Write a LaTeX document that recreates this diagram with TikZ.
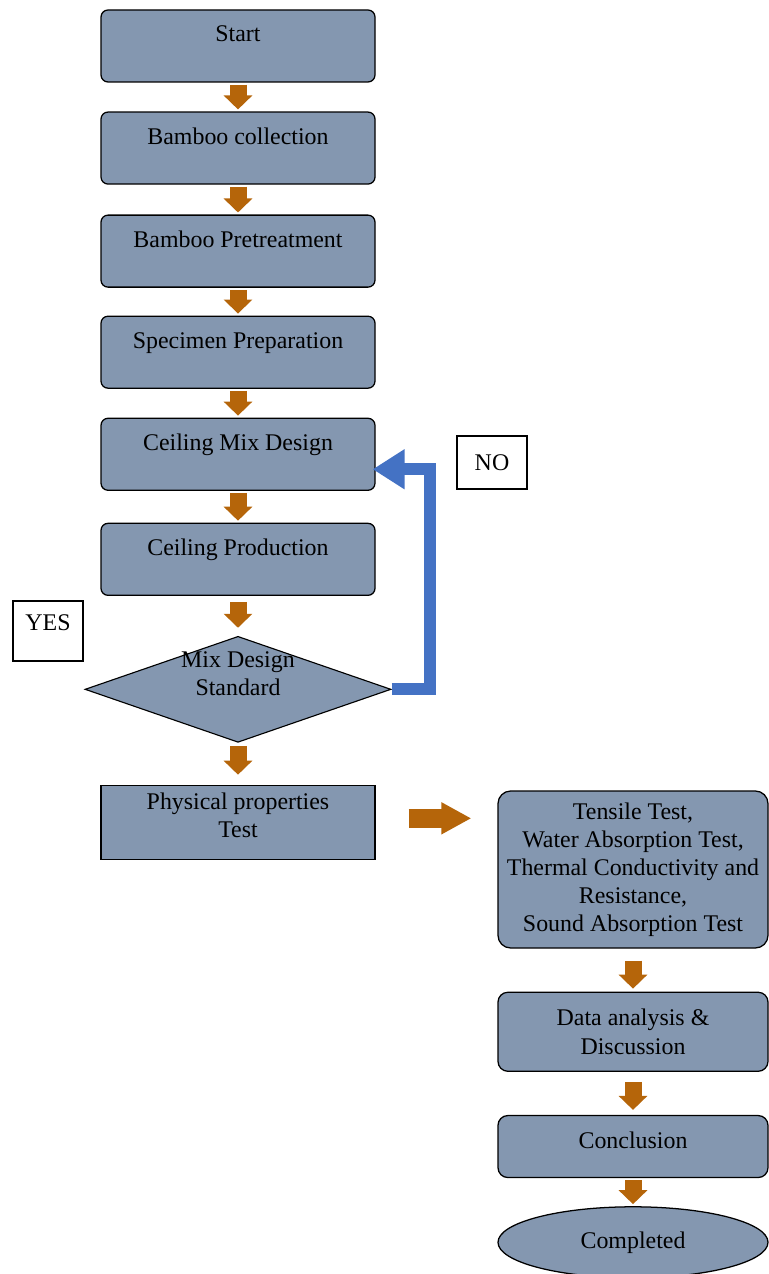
\documentclass[tikz,border=0pt]{standalone}
\usepackage{fontspec}
\setmainfont{Liberation Serif}
\usepackage{tikz}
\usetikzlibrary{shapes.geometric, arrows.meta, positioning, calc}
\definecolor{boxfill}{RGB}{132,151,176}
\definecolor{myorange}{RGB}{181,101,10}
\definecolor{myblue}{RGB}{68,114,196}
\newcommand{\uptext}[2]{\raisebox{#1}[0pt][0pt]{\begin{tabular}{@{}c@{}}#2\end{tabular}}}
\tikzset{
  block/.style={rectangle,draw=black,fill=boxfill,minimum width=6.85cm,minimum height=1.8cm,
    inner sep=0pt,rounded corners=5pt,line width=0.9pt,font=\fontsize{17}{20}\selectfont},
  sqblock/.style={block,rounded corners=0pt,minimum height=1.85cm},
  rblock/.style={rectangle,draw=black,fill=boxfill,minimum width=6.75cm,align=center,
    inner sep=0pt,rounded corners=9pt,line width=0.9pt,font=\fontsize{17}{20}\selectfont},
  decision/.style={diamond,aspect=3,draw=black,fill=boxfill,minimum width=7.65cm,minimum height=2.65cm,
    inner sep=0pt,line width=0.8pt,font=\fontsize{17}{20}\selectfont},
  endblock/.style={ellipse,draw=black,fill=boxfill,minimum width=6.75cm,minimum height=1.775cm,
    inner sep=0pt,line width=0.9pt,font=\fontsize{17}{20}\selectfont},
  lbl/.style={rectangle,draw=black,fill=white,minimum width=1.75cm,line width=0.9pt,
    inner sep=0pt,font=\fontsize{17}{20}\selectfont},
  oarrow/.style={-{Triangle[width=0.7cm,length=0.35cm]},line width=0.425cm,color=myorange,
    shorten <=0.05cm,shorten >=0.05cm},
  barrow/.style={-{Triangle[width=0.95cm,length=0.8cm]},line width=0.3cm,color=myblue}
}
\begin{document}
\begin{tikzpicture}
  \useasboundingbox (0,0) rectangle (19.2,-31.85);

  \node[block] (start) at (5.95,-1.15) {\uptext{0.09cm}{Start}};
  \node[block, below=0.72cm of start]     (collect)  {\uptext{0.09cm}{Bamboo collection}};
  \node[block, below=0.745cm of collect]  (pretreat) {\uptext{0.09cm}{Bamboo Pretreatment}};
  \node[block, below=0.695cm of pretreat] (specimen) {\uptext{0.09cm}{Specimen Preparation}};
  \node[block, below=0.72cm of specimen]  (mixdes)   {\uptext{0.09cm}{Ceiling Mix Design}};
  \node[block, below=0.795cm of mixdes]   (produce)  {\uptext{0.09cm}{Ceiling Production}};
  \node[decision, below=0.995cm of produce] (standard) {\uptext{0.175cm}{Mix Design\\Standard}};
  \node[sqblock, below=1.045cm of standard] (phystest) {\uptext{-0.05cm}{Physical properties\\Test}};

  \node[rblock, minimum height=3.925cm] (tests) at (15.825,-21.7375)
    {Tensile Test,\\Water Absorption Test,\\Thermal Conductivity and\\Resistance,\\Sound Absorption Test};
  \node[rblock, minimum height=1.975cm, rounded corners=7pt, below=1.075cm of tests] (analysis)
    {Data analysis \&\\Discussion};
  \node[rblock, minimum height=1.55cm, rounded corners=7pt, below=1.075cm of analysis] (concl)
    {\uptext{-0.05cm}{Conclusion}};
  \node[endblock, below=0.7cm of concl] (done) {Completed};

  \node[lbl, minimum height=1.325cm] (no)  at (12.3,-11.5625) {NO};
  \node[lbl, minimum height=1.5cm]   (yes) at (1.2,-15.775)   {\uptext{0cm}{YES}};

  \draw[oarrow] (start)    -- (collect);
  \draw[oarrow] (collect)  -- (pretreat);
  \draw[oarrow] (pretreat) -- (specimen);
  \draw[oarrow] (specimen) -- (mixdes);
  \draw[oarrow] (mixdes)   -- (produce);
  \draw[oarrow, shorten <=0.15cm, shorten >=0.2cm]  (produce)  -- (standard);
  \draw[oarrow, shorten <=0.075cm, shorten >=0.25cm] (standard) -- (phystest);
  \draw[oarrow, shorten <=0.3cm, shorten >=0.075cm]  (tests)    -- (analysis);
  \draw[oarrow, shorten <=0.25cm, shorten >=0.125cm] (analysis) -- (concl);
  \draw[oarrow] (concl) -- (done);
  \draw[-{Triangle[width=0.75cm,length=0.75cm]}, line width=0.475cm, color=myorange,
    shorten <=0.825cm, shorten >=0.65cm]
    ([yshift=0.1cm]phystest.east) -- ([yshift=0.1cm]phystest.east -| tests.west);
  \draw[barrow, shorten >=-0.075cm] (standard.east) -- ++(0.95,0) |- ([yshift=-0.375cm]mixdes.east);
\end{tikzpicture}
\end{document}
